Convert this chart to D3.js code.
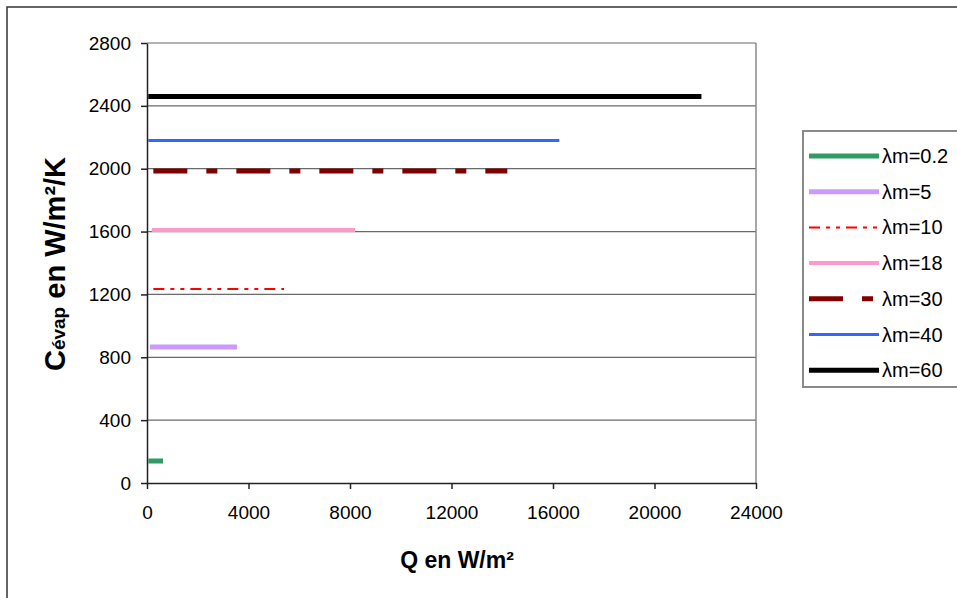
<!DOCTYPE html>
<html>
<head>
<meta charset="utf-8">
<script src="https://cdn.jsdelivr.net/npm/d3@7"></script>
<style>
  body { margin: 0; background: #fff; }
  svg text { font-family: "Liberation Sans", Arial, sans-serif; fill: #000; }
</style>
</head>
<body>
<div id="chart"></div>
<script>
// series: each line is flat, start and end point
const seriesNames = ["λm=0.2", "λm=5", "λm=10", "λm=18", "λm=30", "λm=40", "λm=60"];
const qValues = [
  [50, 630],
  [120, 3550],
  [250, 5400],
  [190, 8200],
  [250, 14200],
  [50, 16250],
  [50, 21850],
];
const cValues = [
  [140, 140],
  [865, 865],
  [1235, 1235],
  [1610, 1610],
  [1985, 1985],
  [2180, 2180],
  [2460, 2460],
];
const xTicks = [0, 4000, 8000, 12000, 16000, 20000, 24000];
const yTicks = [0, 400, 800, 1200, 1600, 2000, 2400, 2800];

// line styles, same order as the series
const colors = ["#339966", "#cc99ff", "#ff0000", "#ff99cc", "#800000", "#3366ff", "#000000"];
const widths = [5, 5, 2, 4, 5, 3, 5];
const dashes = [null, null, "11,6,4,6,4,6", null, "34,19,11,19", null, null];

const width = 957;
const height = 598;

const svg = d3
  .select("#chart")
  .append("svg")
  .attr("width", width)
  .attr("height", height);

// outer chart border
svg
  .append("rect")
  .attr("x", 7)
  .attr("y", 7)
  .attr("width", 970)
  .attr("height", 610)
  .attr("fill", "none")
  .attr("stroke", "#333")
  .attr("stroke-width", 1.5);

const x = d3.scaleLinear().domain([0, 24000]).range([147, 756]);
const y = d3.scaleLinear().domain([0, 2800]).range([483, 43]);

// gridlines
svg
  .append("g")
  .attr("class", "grid")
  .selectAll("line")
  .data(yTicks.filter((d) => d > 0))
  .enter()
  .append("line")
  .attr("x1", x(0))
  .attr("x2", x(24000))
  .attr("y1", (d) => y(d))
  .attr("y2", (d) => y(d))
  .attr("stroke", "#6a6a6a")
  .attr("stroke-width", 1.2);

// right edge of plot area
svg
  .append("line")
  .attr("x1", x(24000))
  .attr("x2", x(24000))
  .attr("y1", y(2800))
  .attr("y2", y(0))
  .attr("stroke", "#8a8a8a")
  .attr("stroke-width", 1.5);

const xAxis = d3
  .axisBottom(x)
  .tickValues(xTicks)
  .tickFormat(d3.format("d"))
  .tickSize(6)
  .tickSizeOuter(0)
  .tickPadding(17);
const yAxis = d3
  .axisLeft(y)
  .tickValues(yTicks)
  .tickFormat(d3.format("d"))
  .tickSize(6)
  .tickSizeOuter(0)
  .tickPadding(10);

svg
  .append("g")
  .attr("class", "x-axis")
  .attr("transform", `translate(0,${y(0)})`)
  .call(xAxis)
  .call((g) => g.selectAll("text").style("font-size", "19px").attr("font-family", null))
  .call((g) => g.selectAll("path, line").attr("stroke", "#222").attr("stroke-width", 1.5));

svg
  .append("g")
  .attr("class", "y-axis")
  .attr("transform", `translate(${x(0)},0)`)
  .call(yAxis)
  .call((g) => g.selectAll("text").style("font-size", "19px").attr("font-family", null))
  .call((g) => g.selectAll("path, line").attr("stroke", "#222").attr("stroke-width", 1.5));

// the series
const line = d3
  .line()
  .x((d) => x(d[0]))
  .y((d) => y(d[1]));

seriesNames.forEach((name, i) => {
  const pts = qValues[i].map((q, j) => [q, cValues[i][j]]);
  svg
    .append("path")
    .datum(pts)
    .attr("class", "series")
    .attr("d", line)
    .attr("fill", "none")
    .attr("stroke", colors[i])
    .attr("stroke-width", widths[i])
    .attr("stroke-dasharray", dashes[i]);
});

// legend
const legend = svg.append("g").attr("class", "legend");
legend
  .append("rect")
  .attr("x", 803)
  .attr("y", 131)
  .attr("width", 170)
  .attr("height", 256)
  .attr("fill", "#fff")
  .attr("stroke", "#8a8a8a")
  .attr("stroke-width", 2);

seriesNames.forEach((name, i) => {
  const ly = 156 + i * 35.7;
  legend
    .append("line")
    .attr("x1", 809)
    .attr("x2", 879)
    .attr("y1", ly)
    .attr("y2", ly)
    .attr("stroke", colors[i])
    .attr("stroke-width", widths[i])
    .attr("stroke-dasharray", dashes[i]);
  legend
    .append("text")
    .attr("x", 882)
    .attr("y", ly)
    .attr("dy", "0.35em")
    .style("font-size", "20px")
    .text(name);
});

// axis titles
const yTitle = svg
  .append("text")
  .attr("transform", "translate(65,264) rotate(-90)")
  .attr("text-anchor", "middle")
  .style("font-size", "29px")
  .style("font-weight", "bold");
yTitle.append("tspan").text("C");
yTitle.append("tspan").style("font-size", "19px").text("évap");
yTitle.append("tspan").text(" en W/m²/K");

svg
  .append("text")
  .attr("x", 457)
  .attr("y", 568)
  .attr("text-anchor", "middle")
  .style("font-size", "23px")
  .style("font-weight", "bold")
  .text("Q en W/m²");
</script>
</body>
</html>
